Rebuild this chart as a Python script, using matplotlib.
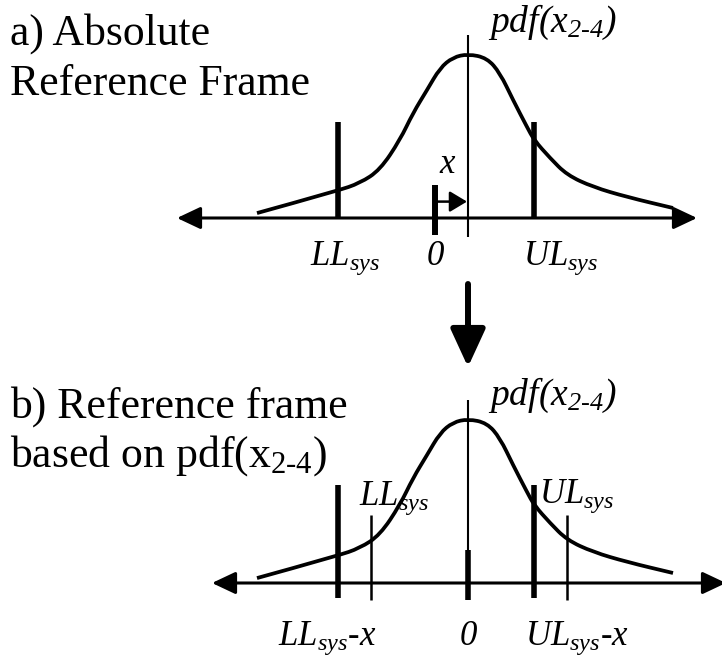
import numpy as np
import matplotlib
matplotlib.use("Agg")
import matplotlib.pyplot as plt
from matplotlib.path import Path
from matplotlib.patches import PathPatch

plt.rcParams['font.family'] = ['Liberation Serif', 'DejaVu Serif']
plt.rcParams['mathtext.fontset'] = 'custom'
plt.rcParams['mathtext.rm'] = 'Liberation Serif'
plt.rcParams['mathtext.it'] = 'Liberation Serif:italic'
plt.rcParams['mathtext.bf'] = 'Liberation Serif:bold'
# italic digits and brackets go through \mathsf
plt.rcParams['mathtext.sf'] = 'Liberation Serif:italic'

# pdf(x_2-4) shape: offset from its mean, relative height (peak = 1)
pdf_u = [-4.22, -2.62, -2.16, -1.76, -1.36, -1.10, -0.82, -0.56, -0.30, 0.0,
         0.38, 0.64, 0.90, 1.18, 1.32, 1.64, 1.98, 2.50, 3.18, 4.10]
pdf_h = [0.03, 0.165, 0.213, 0.293, 0.476, 0.64, 0.78, 0.915, 0.98, 1.0,
         0.976, 0.884, 0.72, 0.555, 0.476, 0.366, 0.262, 0.189, 0.128, 0.061]

# system limits in the absolute frame and the shift x of the pdf mean
LL_sys = -1.94
UL_sys = 1.98
x_shift = 0.66

W, H = 722, 665
PX_U, PX_H = 50.0, 164.0

fig = plt.figure(figsize=(W / 100, H / 100), dpi=100)
fig.patch.set_facecolor('white')


def panel(x0_px, y0_px):
    # full-figure axes where (0, 0) sits at pixel (x0_px, y0_px)
    ax = fig.add_axes([0, 0, 1, 1])
    ax.set_xlim(-x0_px / PX_U, (W - x0_px) / PX_U)
    ax.set_ylim((y0_px - H) / PX_H, y0_px / PX_H)
    ax.axis('off')
    ax.patch.set_alpha(0)
    return ax


def smooth_curve(ax, xs, ys, lw=2.7):
    pts = np.column_stack([xs, ys])
    verts = [pts[0]]
    codes = [Path.MOVETO]
    for i in range(1, len(pts) - 1):
        verts += [pts[i], (pts[i] + pts[i + 1]) / 2]
        codes += [Path.CURVE3, Path.CURVE3]
    verts.append(pts[-1])
    codes.append(Path.LINETO)
    ax.add_patch(PathPatch(Path(verts, codes), fill=False, lw=lw,
                           color='k', capstyle='butt', joinstyle='round'))


def axis_arrow(ax, x0, x1):
    ax.annotate('', xy=(x1, 0), xytext=(x0, 0), annotation_clip=False,
                arrowprops=dict(arrowstyle='<|-|>,head_length=0.72,head_width=0.34',
                                mutation_scale=20, lw=2.2, color='k',
                                shrinkA=0, shrinkB=0))


def vline(ax, x, y0, y1, lw):
    ax.plot([x, x], [y0, y1], color='k', lw=lw, solid_capstyle='butt')


lab = dict(fontsize=25, va='baseline')
pdf_lab = r'$pdf\mathsf{(}x_{\mathsf{2}\text{-}\mathsf{4}}\mathsf{)}$'
zero_lab = r'$\mathsf{0}$'

# ---- a) absolute reference frame ----
ax_a = panel(435, 218)
mean_a = x_shift
smooth_curve(ax_a, np.array(pdf_u) + mean_a, pdf_h)
axis_arrow(ax_a, -5.16, 5.24)
vline(ax_a, LL_sys, 0, 0.585, 4.0)
vline(ax_a, UL_sys, 0, 0.585, 4.0)
vline(ax_a, 0, -0.104, 0.2, 4.3)
vline(ax_a, mean_a, -0.116, 1.116, 1.5)
ax_a.annotate('', xy=(mean_a - 0.02, 0.1), xytext=(0.04, 0.1),
              arrowprops=dict(arrowstyle='-|>,head_length=0.7,head_width=0.42',
                              mutation_scale=15, lw=1.8, color='k',
                              shrinkA=0, shrinkB=0))
ax_a.text(0.26, 0.274, r'$x$', ha='center', **lab)
ax_a.text(LL_sys - 0.56, -0.287, r'$LL_{sys}$', ha='left', **lab)
ax_a.text(0, -0.287, zero_lab, ha='center', **lab)
ax_a.text(UL_sys - 0.22, -0.287, r'$UL_{sys}$', ha='left', **lab)
ax_a.text(mean_a + 0.4, 1.134, pdf_lab, ha='left', fontsize=27, va='baseline')

# transition arrow between the two frames
ax_a.annotate('', xy=(mean_a, (218 - 367) / PX_H), xytext=(mean_a, (218 - 284) / PX_H),
              annotation_clip=False,
              arrowprops=dict(arrowstyle='-|>,head_length=1.0,head_width=0.46',
                              mutation_scale=23, lw=4.3, color='k',
                              shrinkA=0, shrinkB=0))

# ---- b) frame centred on pdf(x_2-4) ----
ax_b = panel(468, 583)
smooth_curve(ax_b, pdf_u, pdf_h)
axis_arrow(ax_b, -5.12, 5.16)
vline(ax_b, LL_sys - x_shift, -0.091, 0.598, 4.0)
vline(ax_b, UL_sys - x_shift, -0.091, 0.598, 4.0)
vline(ax_b, LL_sys, -0.104, 0.415, 1.8)
vline(ax_b, UL_sys, -0.104, 0.415, 1.8)
vline(ax_b, 0, -0.104, 1.116, 1.5)
vline(ax_b, 0, -0.104, 0.2, 4.0)
ax_b.text(LL_sys - 0.24, 0.476, r'$LL_{sys}$', ha='left', **lab)
ax_b.text(UL_sys - 0.56, 0.488, r'$UL_{sys}$', ha='left', **lab)
ax_b.text(LL_sys - x_shift - 1.2, -0.378, r'$LL_{sys}\text{-}x$', ha='left', **lab)
ax_b.text(0, -0.378, zero_lab, ha='center', **lab)
ax_b.text(UL_sys - x_shift - 0.18, -0.378, r'$UL_{sys}\text{-}x$', ha='left', **lab)
ax_b.text(0.4, 1.085, pdf_lab, ha='left', fontsize=27, va='baseline')

# panel captions
cap = dict(fontsize=31.5, ha='left', va='baseline', transform=fig.transFigure)
fig.text(10 / W, 1 - 45 / H, 'a) Absolute', **cap)
fig.text(10 / W, 1 - 95 / H, 'Reference Frame', **cap)
fig.text(10 / W, 1 - 418 / H, 'b) Reference frame', **cap)
fig.text(10 / W, 1 - 467 / H, r'based on pdf(x$_{2\text{-}4}$)', **cap)

fig.savefig('out.png', dpi=100, facecolor='white')
